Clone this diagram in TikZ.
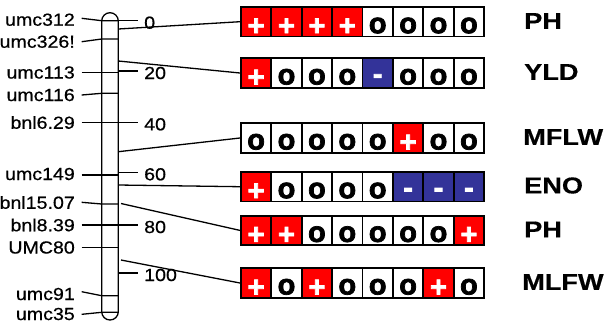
\documentclass[tikz,border=0pt]{standalone}
\usepackage{fontspec}
\setmainfont[FakeStretch=1.12,FakeBold=0.6]{Liberation Sans}
\newfontfamily\traitfont[FakeStretch=1.18,FakeBold=0.4]{Liberation Sans Bold}
\newfontfamily\cellfont[FakeBold=2.5]{Liberation Sans Bold}
\definecolor{pred}{RGB}{255,0,0}
\definecolor{nblue}{RGB}{51,51,153}

\begin{document}
\begin{tikzpicture}[x=1pt,y=-1pt,
  mk/.style={line width=1.3pt},
  lab/.style={anchor=east, inner sep=0pt, font=\fontsize{17.5}{20}\selectfont},
  num/.style={anchor=west, inner sep=0pt, font=\fontsize{17.5}{20}\selectfont},
  trait/.style={anchor=west, inner sep=0pt, font=\traitfont\fontsize{23}{26}\selectfont},
  cell/.style={draw=black, line width=1.8pt, minimum width=30.4pt, minimum height=29.6pt,
    inner sep=0pt, anchor=north west, text depth=0pt, font=\cellfont\fontsize{29}{29}\selectfont},
  pl/.style={cell, fill=pred, text=white, text height=27.4pt, node contents={+}},
  zo/.style={cell, fill=white, text=black, text height=23pt, node contents={o}},
  mi/.style={cell, fill=nblue, text=white, text height=21.2pt, node contents={-}}
]
\useasboundingbox (0,0) rectangle (609,325);

% chromosome body
\node[draw, line width=1.3pt, rounded corners=8.3pt, minimum width=16.6pt,
  minimum height=307.3pt, inner sep=0pt] (chr) at (110,166.35) {};

% marker names on the left, each tied to the chromosome
\foreach \n/\txt/\ty/\ly/\cy in {
  1/umc312/19.7/18.3/20.7,
  2/umc326!/41.7/41.7/39,
  3/umc113/72.5/72.3/72.3,
  4/umc116/95/95/93.3,
  5/bnl6.29/122.5/122.3/122.3,
  6/umc149/174/175/175,
  7/bnl15.07/202.5/202.3/204,
  8/bnl8.39/225/225/225,
  9/UMC80/247.5/247.7/247.7,
  10/umc91/294/291.7/295.7,
  11/umc35/314/314.3/312.3} {
  \node[lab] (mk\n) at (75,\ty) {\txt};
  \coordinate (ml\n) at (81.7,\ly);
  \coordinate (ca\n) at (101.7,\cy);
  \coordinate (cb\n) at (118.3,\cy);
  \draw[mk] (ml\n) -- (ca\n) -- (cb\n);
}

% scale ticks on the right side
\foreach \n/\v/\y in {1/0/20.7, 2/20/71, 3/40/122.3, 4/60/172.3, 5/80/225, 6/100/273} {
  \coordinate (ta\n) at (118.3,\y);
  \coordinate (tb\n) at (138,\y);
  \draw[mk] (ta\n) -- (tb\n);
  \node[num] (tn\n) at (144,\y+2) {\v};
}

% allele effect rows
\foreach \r/\top/\cells in {
  1/6/{pl,pl,pl,pl,zo,zo,zo,zo},
  2/57.3/{pl,zo,zo,zo,mi,zo,zo,zo},
  3/122.3/{zo,zo,zo,zo,zo,pl,zo,zo},
  4/171/{pl,zo,zo,zo,zo,mi,mi,mi},
  5/214.7/{pl,pl,zo,zo,zo,zo,zo,pl},
  6/267.3/{pl,zo,pl,zo,zo,zo,pl,zo}} {
  \foreach \c [count=\i] in \cells {
    \node (r\r c\i) at ({240+30.4*(\i-1)},\top) [\c];
  }
}

% trait names
\node[trait] (t1) at (524,21) {PH};
\node[trait] (t2) at (524,72) {YLD};
\node[trait] (t3) at (523,137) {MFLW};
\node[trait] (t4) at (524,185.5) {ENO};
\node[trait] (t5) at (524,229.5) {PH};
\node[trait] (t6) at (522,282) {MLFW};

% links from the chromosome to the rows
\coordinate (s1) at (118.3,29);
\coordinate (s2) at (118.3,61);
\coordinate (s3) at (118.3,151.7);
\coordinate (s4) at (118.3,185);
\coordinate (s5) at (121,203.5);
\coordinate (s6) at (121,260);
\foreach \r in {1,...,6} {
  \draw[mk] (s\r) -- (r\r c1.west);
}
\end{tikzpicture}
\end{document}
